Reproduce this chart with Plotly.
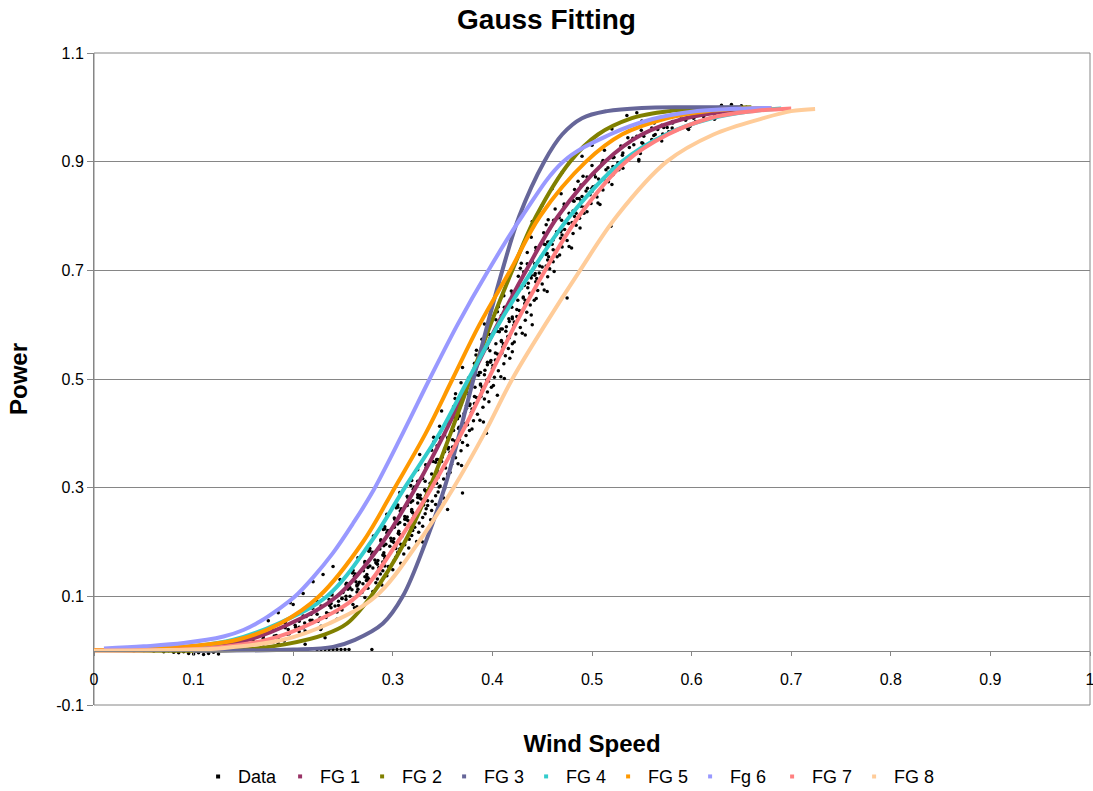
import plotly.graph_objects as go

# ---------------- data ----------------
data_points = [
    # flat tail near zero
    (0.0, 0.0), (0.01, 0.0), (0.02, 0.001), (0.03, 0.0), (0.04, -0.001), (0.05, 0.0),
    (0.06, -0.001), (0.07, -0.002), (0.075, 0.0), (0.08, -0.003), (0.085, -0.004),
    (0.09, -0.002), (0.095, -0.005), (0.1, -0.006), (0.105, -0.004), (0.11, -0.007),
    (0.115, -0.005), (0.12, -0.003), (0.125, -0.006), (0.13, 0.002), (0.135, 0.004),
    (0.14, 0.006), (0.145, 0.009), (0.15, 0.008), (0.16, 0.013),
    (0.13, 0.006), (0.14, 0.01), (0.145, 0.005), (0.15, 0.012), (0.155, 0.01),
    (0.16, 0.017), (0.165, 0.014), (0.17, 0.012), (0.175, 0.02), (0.18, 0.016), (0.185, 0.013),
    # points lying on zero around 0.22-0.28
    (0.224, 0.002), (0.228, 0.002), (0.232, 0.002), (0.236, 0.002), (0.24, 0.002),
    (0.244, 0.002), (0.248, 0.002), (0.252, 0.002), (0.256, 0.002), (0.279, 0.002),
    # main band
    (0.157, 0.024), (0.172, 0.014), (0.183, 0.028), (0.191, 0.018),
    (0.181, 0.027), (0.195, 0.039), (0.170, 0.023), (0.206, 0.035),
    (0.202, 0.047), (0.192, 0.042), (0.212, 0.036), (0.228, 0.041),
    (0.192, 0.051), (0.217, 0.056), (0.228, 0.045), (0.210, 0.042),
    (0.210, 0.064), (0.225, 0.054), (0.236, 0.068), (0.244, 0.058),
    (0.224, 0.067), (0.238, 0.079), (0.213, 0.063), (0.249, 0.075),
    (0.238, 0.087), (0.228, 0.082), (0.248, 0.076), (0.264, 0.081),
    (0.224, 0.091), (0.249, 0.096), (0.260, 0.085), (0.242, 0.082),
    (0.238, 0.104), (0.253, 0.094), (0.264, 0.108), (0.272, 0.098),
    (0.250, 0.107), (0.264, 0.119), (0.239, 0.103), (0.275, 0.115),
    (0.263, 0.127), (0.253, 0.122), (0.273, 0.116), (0.289, 0.121),
    (0.247, 0.131), (0.272, 0.136), (0.283, 0.125), (0.265, 0.122),
    (0.260, 0.144), (0.275, 0.134), (0.286, 0.148), (0.294, 0.138),
    (0.2705, 0.147), (0.2845, 0.159), (0.2595, 0.143), (0.2955, 0.155),
    (0.282, 0.167), (0.272, 0.162), (0.292, 0.156), (0.308, 0.161),
    (0.265, 0.171), (0.290, 0.176), (0.301, 0.165), (0.283, 0.162),
    (0.277, 0.184), (0.292, 0.174), (0.303, 0.188), (0.311, 0.178),
    (0.287, 0.187), (0.301, 0.199), (0.276, 0.183), (0.312, 0.195),
    (0.298, 0.207), (0.288, 0.202), (0.308, 0.196), (0.324, 0.201),
    (0.2805, 0.211), (0.3055, 0.216), (0.3165, 0.205), (0.2985, 0.202),
    (0.292, 0.224), (0.307, 0.214), (0.318, 0.228), (0.326, 0.218),
    (0.3015, 0.227), (0.3155, 0.239), (0.2905, 0.223), (0.3265, 0.235),
    (0.312, 0.247), (0.302, 0.242), (0.322, 0.236), (0.338, 0.241),
    (0.294, 0.251), (0.319, 0.256), (0.330, 0.245), (0.312, 0.242),
    (0.305, 0.264), (0.320, 0.254), (0.331, 0.268), (0.339, 0.258),
    (0.3145, 0.267), (0.3285, 0.279), (0.3035, 0.263), (0.3395, 0.275),
    (0.325, 0.287), (0.315, 0.282), (0.335, 0.276), (0.351, 0.281),
    (0.307, 0.291), (0.332, 0.296), (0.343, 0.285), (0.325, 0.282),
    (0.318, 0.304), (0.333, 0.294), (0.344, 0.308), (0.352, 0.298),
    (0.330, 0.317), (0.344, 0.329), (0.319, 0.313), (0.355, 0.325),
    (0.343, 0.347), (0.333, 0.342), (0.353, 0.336), (0.369, 0.341),
    (0.327, 0.361), (0.352, 0.366), (0.363, 0.355), (0.345, 0.352),
    (0.341, 0.384), (0.356, 0.374), (0.367, 0.388), (0.375, 0.378),
    (0.352, 0.397), (0.366, 0.409), (0.341, 0.393), (0.377, 0.405),
    (0.365, 0.427), (0.355, 0.422), (0.375, 0.416), (0.391, 0.421),
    (0.349, 0.441), (0.374, 0.446), (0.385, 0.435), (0.367, 0.432),
    (0.3625, 0.464), (0.3775, 0.454), (0.3885, 0.468), (0.3965, 0.458),
    (0.374, 0.477), (0.388, 0.489), (0.363, 0.473), (0.399, 0.485),
    (0.386, 0.507), (0.376, 0.502), (0.396, 0.496), (0.412, 0.501),
    (0.370, 0.521), (0.395, 0.526), (0.406, 0.515), (0.388, 0.512),
    (0.3835, 0.544), (0.3985, 0.534), (0.4095, 0.548), (0.4175, 0.538),
    (0.395, 0.557), (0.409, 0.569), (0.384, 0.553), (0.420, 0.565),
    (0.407, 0.587), (0.397, 0.582), (0.417, 0.576), (0.433, 0.581),
    (0.392, 0.601), (0.417, 0.606), (0.428, 0.595), (0.410, 0.592),
    (0.405, 0.624), (0.420, 0.614), (0.431, 0.628), (0.439, 0.618),
    (0.417, 0.637), (0.431, 0.649), (0.406, 0.633), (0.442, 0.645),
    (0.429, 0.667), (0.419, 0.662), (0.439, 0.656), (0.455, 0.661),
    (0.414, 0.681), (0.439, 0.686), (0.450, 0.675), (0.432, 0.672),
    (0.428, 0.704), (0.443, 0.694), (0.454, 0.708), (0.462, 0.698),
    (0.440, 0.717), (0.454, 0.729), (0.429, 0.713), (0.465, 0.725),
    (0.4535, 0.747), (0.4435, 0.742), (0.4635, 0.736), (0.4795, 0.741),
    (0.439, 0.761), (0.464, 0.766), (0.475, 0.755), (0.457, 0.752),
    (0.454, 0.784), (0.469, 0.774), (0.480, 0.788), (0.488, 0.778),
    (0.467, 0.797), (0.481, 0.809), (0.456, 0.793), (0.492, 0.805),
    (0.482, 0.827), (0.472, 0.822), (0.492, 0.816), (0.508, 0.821),
    (0.469, 0.841), (0.494, 0.846), (0.505, 0.835), (0.487, 0.832),
    (0.486, 0.864), (0.501, 0.854), (0.512, 0.868), (0.520, 0.858),
    (0.502, 0.877), (0.516, 0.889), (0.491, 0.873), (0.527, 0.885),
    (0.521, 0.907), (0.511, 0.902), (0.531, 0.896), (0.547, 0.901),
    (0.5125, 0.921), (0.5375, 0.926), (0.5485, 0.915), (0.5305, 0.912),
    (0.536, 0.944), (0.551, 0.934), (0.562, 0.948), (0.570, 0.938),
    (0.552, 0.947), (0.566, 0.959), (0.541, 0.943), (0.577, 0.955),
    (0.570, 0.967), (0.560, 0.962), (0.580, 0.956), (0.596, 0.961),
    (0.5625, 0.971), (0.5875, 0.976), (0.5985, 0.965), (0.5805, 0.962),
    (0.589, 0.984), (0.604, 0.974), (0.615, 0.988), (0.623, 0.978),
    (0.623, 0.987), (0.637, 0.999), (0.612, 0.983), (0.648, 0.995),
    (0.630, 1.004), (0.640, 1.005), (0.650, 1.003), (0.655, 1.0), (0.660, 0.998),
    # second pass through the band
    (0.325, 0.312), (0.340, 0.306), (0.351, 0.316),
    (0.339, 0.325), (0.325, 0.333), (0.351, 0.338),
    (0.3495, 0.356), (0.3405, 0.348), (0.3655, 0.344),
    (0.339, 0.369), (0.360, 0.375), (0.352, 0.371),
    (0.3475, 0.392), (0.3625, 0.386), (0.3735, 0.396),
    (0.361, 0.405), (0.347, 0.413), (0.373, 0.418),
    (0.3715, 0.436), (0.3625, 0.428), (0.3875, 0.424),
    (0.361, 0.449), (0.382, 0.455), (0.374, 0.451),
    (0.369, 0.472), (0.384, 0.466), (0.395, 0.476),
    (0.3825, 0.485), (0.3685, 0.493), (0.3945, 0.498),
    (0.3925, 0.516), (0.3835, 0.508), (0.4085, 0.504),
    (0.382, 0.529), (0.403, 0.535), (0.395, 0.531),
    (0.390, 0.552), (0.405, 0.546), (0.416, 0.556),
    (0.4035, 0.565), (0.3895, 0.573), (0.4155, 0.578),
    (0.414, 0.596), (0.405, 0.588), (0.430, 0.584),
    (0.4035, 0.609), (0.4245, 0.615), (0.4165, 0.611),
    (0.412, 0.632), (0.427, 0.626), (0.438, 0.636),
    (0.4255, 0.645), (0.4115, 0.653), (0.4375, 0.658),
    (0.436, 0.676), (0.427, 0.668), (0.452, 0.664),
    (0.426, 0.689), (0.447, 0.695), (0.439, 0.691),
    (0.435, 0.712), (0.450, 0.706), (0.461, 0.716),
    (0.449, 0.725), (0.435, 0.733), (0.461, 0.738),
    (0.461, 0.756), (0.452, 0.748), (0.477, 0.744),
    (0.4515, 0.769), (0.4725, 0.775), (0.4645, 0.771),
    (0.4615, 0.792), (0.4765, 0.786), (0.4875, 0.796),
    (0.477, 0.805), (0.463, 0.813), (0.489, 0.818),
    (0.490, 0.836), (0.481, 0.828), (0.506, 0.824),
    (0.4825, 0.849), (0.5035, 0.855), (0.4955, 0.851),
    (0.495, 0.872), (0.510, 0.866), (0.521, 0.876),
    (0.514, 0.885), (0.500, 0.893), (0.526, 0.898),
    (0.531, 0.916), (0.522, 0.908), (0.547, 0.904),
    (0.529, 0.929), (0.550, 0.935), (0.542, 0.931),
    (0.545, 0.947), (0.560, 0.941), (0.571, 0.951),
    (0.5635, 0.950), (0.5495, 0.958), (0.5755, 0.963),
    (0.581, 0.971), (0.572, 0.963), (0.597, 0.959),
    (0.581, 0.974), (0.602, 0.980), (0.594, 0.976),
    (0.607, 0.987), (0.622, 0.981), (0.633, 0.991),
    # third pass, lower part of the band
    (0.253, 0.100), (0.239, 0.108), (0.265, 0.113),
    (0.264, 0.121), (0.255, 0.113), (0.280, 0.109),
    (0.2535, 0.124), (0.2745, 0.130), (0.2665, 0.126),
    (0.2615, 0.137), (0.2765, 0.131), (0.2875, 0.141),
    (0.274, 0.140), (0.260, 0.148), (0.286, 0.153),
    (0.284, 0.161), (0.275, 0.153), (0.300, 0.149),
    (0.272, 0.164), (0.293, 0.170), (0.285, 0.166),
    (0.279, 0.177), (0.294, 0.171), (0.305, 0.181),
    (0.291, 0.180), (0.277, 0.188), (0.303, 0.193),
    (0.300, 0.201), (0.291, 0.193), (0.316, 0.189),
    (0.288, 0.204), (0.309, 0.210), (0.301, 0.206),
    (0.294, 0.217), (0.309, 0.211), (0.320, 0.221),
    (0.306, 0.220), (0.292, 0.228), (0.318, 0.233),
    (0.314, 0.241), (0.305, 0.233), (0.330, 0.229),
    (0.3015, 0.244), (0.3225, 0.250), (0.3145, 0.246),
    (0.3075, 0.257), (0.3225, 0.251), (0.3335, 0.261),
    (0.319, 0.260), (0.305, 0.268), (0.331, 0.273),
    (0.327, 0.281), (0.318, 0.273), (0.343, 0.269),
    (0.3145, 0.284), (0.3355, 0.290), (0.3275, 0.286),
    (0.3205, 0.297), (0.3355, 0.291), (0.3465, 0.301),
    (0.170, 0.027), (0.185, 0.021), (0.196, 0.031),
    (0.194, 0.030), (0.180, 0.038), (0.206, 0.043),
    (0.2115, 0.051), (0.2025, 0.043), (0.2275, 0.039),
    (0.206, 0.054), (0.227, 0.060), (0.219, 0.056),
    (0.218, 0.067), (0.233, 0.061), (0.244, 0.071),
    (0.2335, 0.070), (0.2195, 0.078), (0.2455, 0.083),
    (0.2455, 0.091), (0.2365, 0.083), (0.2615, 0.079),
    (0.236, 0.094), (0.257, 0.100), (0.249, 0.096),
    # fourth pass, core of the band
    (0.3375, 0.308), (0.3475, 0.303), (0.3325, 0.312), (0.3455, 0.319),
    (0.3465, 0.325), (0.3575, 0.328), (0.3335, 0.337), (0.3445, 0.331),
    (0.349, 0.348), (0.359, 0.343), (0.344, 0.352), (0.357, 0.359),
    (0.3575, 0.365), (0.3685, 0.368), (0.3445, 0.377), (0.3555, 0.371),
    (0.360, 0.388), (0.370, 0.383), (0.355, 0.392), (0.368, 0.399),
    (0.3685, 0.405), (0.3795, 0.408), (0.3555, 0.417), (0.3665, 0.411),
    (0.371, 0.428), (0.381, 0.423), (0.366, 0.432), (0.379, 0.439),
    (0.3795, 0.445), (0.3905, 0.448), (0.366, 0.457), (0.377, 0.451),
    (0.382, 0.468), (0.392, 0.463), (0.3765, 0.472), (0.3895, 0.479),
    (0.390, 0.485), (0.401, 0.488), (0.377, 0.497), (0.388, 0.491),
    (0.392, 0.508), (0.402, 0.503), (0.387, 0.512), (0.400, 0.519),
    (0.4005, 0.525), (0.4115, 0.528), (0.387, 0.537), (0.398, 0.531),
    (0.403, 0.548), (0.413, 0.543), (0.3975, 0.552), (0.4105, 0.559),
    (0.411, 0.565), (0.422, 0.568), (0.398, 0.577), (0.409, 0.571),
    (0.4135, 0.588), (0.4235, 0.583), (0.4085, 0.592), (0.4215, 0.599),
    (0.422, 0.605), (0.433, 0.608), (0.409, 0.617), (0.420, 0.611),
    (0.4245, 0.628), (0.4345, 0.623), (0.4195, 0.632), (0.4325, 0.639),
    (0.433, 0.645), (0.444, 0.648), (0.420, 0.657), (0.431, 0.651),
    (0.4355, 0.668), (0.4455, 0.663), (0.4305, 0.672), (0.4435, 0.679),
    (0.4445, 0.685), (0.4555, 0.688), (0.4315, 0.697), (0.4425, 0.691),
    (0.4475, 0.708), (0.4575, 0.703), (0.4425, 0.712), (0.4555, 0.719),
    (0.4565, 0.725), (0.4675, 0.728), (0.444, 0.737), (0.455, 0.731),
    (0.460, 0.748), (0.470, 0.743), (0.4555, 0.752), (0.4685, 0.759),
    (0.470, 0.765), (0.481, 0.768), (0.4575, 0.777), (0.4685, 0.771),
    (0.474, 0.788), (0.484, 0.783), (0.4695, 0.792), (0.4825, 0.799),
    (0.484, 0.805), (0.495, 0.808), (0.472, 0.817), (0.483, 0.811),
    (0.489, 0.828), (0.499, 0.823), (0.485, 0.832), (0.498, 0.839),
    (0.500, 0.845), (0.511, 0.848), (0.489, 0.857), (0.500, 0.851),
    (0.5065, 0.868), (0.5165, 0.863), (0.5035, 0.872), (0.5165, 0.879),
    (0.520, 0.885), (0.531, 0.888), (0.510, 0.897), (0.521, 0.891),
    (0.259, 0.112), (0.269, 0.107), (0.257, 0.116), (0.270, 0.123),
    (0.2735, 0.129), (0.2845, 0.132), (0.2625, 0.141), (0.2735, 0.135),
    (0.280, 0.152), (0.290, 0.147), (0.277, 0.156), (0.290, 0.163),
    (0.292, 0.169), (0.303, 0.172), (0.280, 0.181), (0.291, 0.175),
    (0.297, 0.192), (0.307, 0.187), (0.293, 0.196), (0.306, 0.203),
    (0.308, 0.209), (0.319, 0.212), (0.295, 0.221), (0.306, 0.215),
    (0.312, 0.232), (0.322, 0.227), (0.307, 0.236), (0.320, 0.243),
    (0.3215, 0.249), (0.3325, 0.252), (0.3085, 0.261), (0.3195, 0.255),
    (0.325, 0.272), (0.335, 0.267), (0.320, 0.276), (0.333, 0.283),
    (0.3345, 0.289), (0.3455, 0.292), (0.3215, 0.301), (0.3325, 0.295),
    # scattered points away from the band
    (0.519, 0.781), (0.475, 0.649), (0.394, 0.40), (0.405, 0.47), (0.42, 0.55),
    (0.44, 0.60), (0.37, 0.29), (0.355, 0.26), (0.33, 0.20), (0.197, 0.088),
    (0.22, 0.127), (0.21, 0.105), (0.185, 0.07), (0.20, 0.085), (0.23, 0.14),
    (0.24, 0.155), (0.175, 0.055), (0.535, 0.985), (0.545, 0.99), (0.55, 0.975),
    (0.52, 0.96), (0.50, 0.93), (0.49, 0.91), (0.47, 0.88), (0.46, 0.85),
    (0.45, 0.82), (0.44, 0.79), (0.212, 0.012), (0.232, 0.024),
]
data_x = [p[0] for p in data_points]
data_y = [p[1] for p in data_points]

fg1_x = [0.0, 0.05, 0.1, 0.153, 0.197, 0.244, 0.29, 0.323, 0.352, 0.378, 0.405, 0.434, 0.466, 0.513, 0.55, 0.594, 0.635, 0.68]
fg1_y = [0.0, 0.001, 0.004, 0.019, 0.05, 0.1, 0.2, 0.3, 0.4, 0.5, 0.6, 0.7, 0.8, 0.9, 0.95, 0.98, 0.993, 0.999]

fg2_x = [0.0, 0.1, 0.15, 0.193, 0.232, 0.254, 0.278, 0.312, 0.337, 0.358, 0.378, 0.398, 0.42, 0.444, 0.478, 0.506, 0.54, 0.565, 0.6, 0.66]
fg2_y = [0.0, 0.0, 0.002, 0.012, 0.03, 0.05, 0.1, 0.2, 0.3, 0.4, 0.5, 0.6, 0.7, 0.8, 0.9, 0.95, 0.98, 0.99, 0.997, 1.0]

fg3_x = [0.1, 0.2, 0.24, 0.262, 0.29, 0.31, 0.333, 0.352, 0.367, 0.381, 0.395, 0.41, 0.427, 0.452, 0.47, 0.49, 0.515, 0.55, 0.6, 0.65]
fg3_y = [0.0, 0.002, 0.007, 0.02, 0.05, 0.1, 0.2, 0.3, 0.4, 0.5, 0.6, 0.7, 0.8, 0.9, 0.95, 0.98, 0.993, 0.999, 1.0, 1.0]

fg4_x = [0.0, 0.05, 0.1, 0.14, 0.185, 0.234, 0.278, 0.312, 0.347, 0.376, 0.406, 0.44, 0.478, 0.53, 0.574, 0.62, 0.66, 0.69]
fg4_y = [0.0, 0.002, 0.008, 0.02, 0.05, 0.1, 0.2, 0.3, 0.4, 0.5, 0.6, 0.7, 0.8, 0.9, 0.95, 0.98, 0.993, 0.998]

fg5_x = [0.0, 0.05, 0.1, 0.144, 0.187, 0.226, 0.27, 0.302, 0.333, 0.36, 0.387, 0.418, 0.448, 0.494, 0.53, 0.575, 0.615, 0.68]
fg5_y = [0.001, 0.003, 0.009, 0.02, 0.05, 0.1, 0.2, 0.3, 0.4, 0.5, 0.6, 0.7, 0.8, 0.9, 0.95, 0.98, 0.993, 0.999]

fg6_x = [0.01, 0.05, 0.09, 0.13, 0.15, 0.167, 0.185, 0.202, 0.22, 0.24, 0.26, 0.279, 0.31, 0.337, 0.365, 0.396, 0.43, 0.471, 0.518, 0.56, 0.6, 0.68]
fg6_y = [0.004, 0.008, 0.014, 0.026, 0.038, 0.054, 0.076, 0.1, 0.135, 0.18, 0.234, 0.29, 0.4, 0.5, 0.6, 0.7, 0.8, 0.9, 0.95, 0.978, 0.992, 0.999]

fg7_x = [0.0, 0.062, 0.118, 0.174, 0.218, 0.264, 0.305, 0.339, 0.369, 0.396, 0.423, 0.453, 0.487, 0.534, 0.576, 0.618, 0.662, 0.70]
fg7_y = [0.0, 0.001, 0.005, 0.02, 0.05, 0.1, 0.2, 0.3, 0.4, 0.5, 0.6, 0.7, 0.8, 0.9, 0.95, 0.98, 0.993, 0.998]

fg8_x = [0.0, 0.074, 0.131, 0.19, 0.236, 0.283, 0.326, 0.361, 0.392, 0.42, 0.453, 0.488, 0.525, 0.575, 0.622, 0.672, 0.70, 0.724]
fg8_y = [0.0, 0.001, 0.005, 0.02, 0.05, 0.1, 0.2, 0.3, 0.4, 0.5, 0.6, 0.7, 0.8, 0.9, 0.95, 0.98, 0.993, 0.997]

series_names = ["FG 1", "FG 2", "FG 3", "FG 4", "FG 5", "Fg 6", "FG 7", "FG 8"]
series_colors = ["#993366", "#808000", "#666699", "#33CCCC", "#FF9900", "#9999FF", "#FF8080", "#FFCC99"]
series_x = [fg1_x, fg2_x, fg3_x, fg4_x, fg5_x, fg6_x, fg7_x, fg8_x]
series_y = [fg1_y, fg2_y, fg3_y, fg4_y, fg5_y, fg6_y, fg7_y, fg8_y]

x_ticks = [0, 0.1, 0.2, 0.3, 0.4, 0.5, 0.6, 0.7, 0.8, 0.9, 1.0]
x_tick_text = ["0", "0.1", "0.2", "0.3", "0.4", "0.5", "0.6", "0.7", "0.8", "0.9", "1"]
y_ticks = [-0.1, 0.1, 0.3, 0.5, 0.7, 0.9, 1.1]
y_tick_text = ["-0.1", "0.1", "0.3", "0.5", "0.7", "0.9", "1.1"]

FONT = "Liberation Sans, Arial, sans-serif"
GRID = "#868686"

fig = go.Figure()
fig.add_trace(go.Scatter(x=data_x, y=data_y, mode="markers", name="Data",
                         marker=dict(color="black", size=3.5), showlegend=False))
for nm, xs, ys, col in zip(series_names, series_x, series_y, series_colors):
    fig.add_trace(go.Scatter(x=xs, y=ys, mode="lines", name=nm, showlegend=False,
                             line=dict(color=col, width=4, shape="spline", smoothing=1.0)))

# legend entries (small dots like the original legend)
fig.add_trace(go.Scatter(x=[None], y=[None], mode="markers", name="Data",
                         marker=dict(color="black", size=4, symbol="square")))
for nm, col in zip(series_names, series_colors):
    fig.add_trace(go.Scatter(x=[None], y=[None], mode="markers", name=nm,
                             marker=dict(color=col, size=4, symbol="square")))

fig.update_layout(
    width=1093, height=791,
    margin=dict(l=94, r=3, t=53, b=86, autoexpand=False),
    paper_bgcolor="white", plot_bgcolor="white",
    font=dict(family=FONT, color="black"),
    title=dict(text="Gauss Fitting", x=0.5, xref="container", xanchor="center",
               y=1 - 19 / 791, yref="container", yanchor="middle",
               font=dict(family=FONT, size=28, weight="bold", color="black")),
    xaxis=dict(range=[0, 1], tickvals=x_ticks, ticktext=x_tick_text,
               showgrid=False, zeroline=False, showline=True, linecolor=GRID,
               anchor="free", position=0.1 / 1.2, automargin=False,
               ticks="outside", ticklen=4, tickcolor=GRID, ticklabelstandoff=10,
               ticklabeloverflow="allow",
               tickfont=dict(family=FONT, size=16, color="black"),
               title=dict(text="Wind Speed", standoff=48,
                          font=dict(family=FONT, size=24, weight="bold", color="black"))),
    yaxis=dict(range=[-0.1, 1.1], tickvals=y_ticks, ticktext=y_tick_text,
               showgrid=True, gridcolor=GRID, gridwidth=1, zeroline=False, automargin=False,
               showline=True, linecolor=GRID, ticks="outside", ticklen=6, tickcolor=GRID,
               tickfont=dict(family=FONT, size=16, color="black"),
               title=dict(text="Power", standoff=21,
                          font=dict(family=FONT, size=24, weight="bold", color="black"))),
    legend=dict(orientation="h", x=0.475, xanchor="center", y=-0.11, yanchor="middle",
                font=dict(family=FONT, size=18, color="black"),
                itemwidth=30, entrywidth=37, entrywidthmode="pixels",
                bgcolor="rgba(0,0,0,0)"),
    shapes=[dict(type="rect", xref="paper", yref="paper", x0=0, x1=1, y0=0, y1=1,
                 line=dict(color=GRID, width=1), layer="below")],
)

fig.write_html("out.html")
